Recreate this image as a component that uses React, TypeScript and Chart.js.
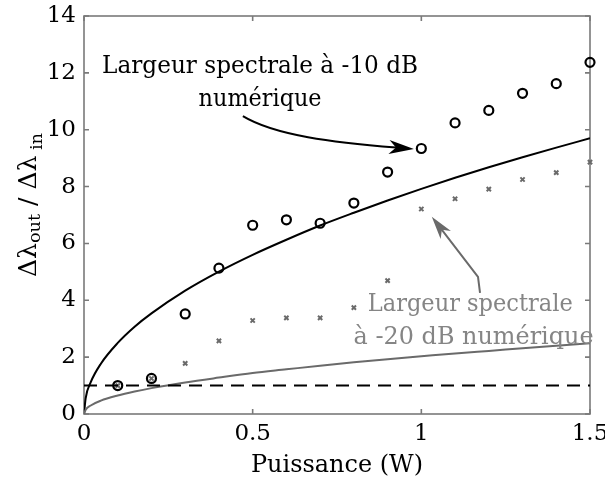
import React, { useEffect, useRef } from "react";
import { Chart, registerables } from "chart.js";

Chart.register(...registerables);

// ---- Data ----
const curvePower = [0, 0.005, 0.02, 0.05, 0.1, 0.15, 0.2, 0.3, 0.4, 0.5, 0.6, 0.7, 0.8, 0.9, 1.0, 1.1, 1.2, 1.3, 1.4, 1.5];
const curve10dB = [0, 0.56, 1.12, 1.77, 2.5, 3.07, 3.54, 4.34, 5.01, 5.6, 6.13, 6.63, 7.08, 7.51, 7.92, 8.31, 8.68, 9.03, 9.37, 9.7];
const curve20dB = [0, 0.15, 0.3, 0.47, 0.65, 0.79, 0.91, 1.11, 1.28, 1.44, 1.57, 1.7, 1.82, 1.93, 2.03, 2.13, 2.22, 2.31, 2.4, 2.49];
const measPower = [0.1, 0.2, 0.3, 0.4, 0.5, 0.6, 0.7, 0.8, 0.9, 1.0, 1.1, 1.2, 1.3, 1.4, 1.5];
const meas10dB = [1.0, 1.25, 3.52, 5.13, 6.64, 6.83, 6.71, 7.42, 8.51, 9.34, 10.24, 10.68, 11.28, 11.62, 12.37];
const meas20dB = [1.0, 1.25, 1.78, 2.57, 3.29, 3.38, 3.38, 3.74, 4.69, 7.21, 7.57, 7.91, 8.25, 8.49, 8.86];
const refPower = [0, 1.5];
const refLevel = [1, 1];
const xTicks = [0, 0.5, 1, 1.5];
const yTicks = [0, 2, 4, 6, 8, 10, 12, 14];

const label10 = ["Largeur spectrale à -10 dB", "numérique"];
const label20 = ["Largeur spectrale", "à -20 dB numérique"];
const xTitle = "Puissance (W)";

const FONT = "DejaVu Serif";
const FRAME = "#7a7a7a";
const GRAY = "#6a6a6a";
const GRAY_TEXT = "#858585";

function pts(xs: number[], ys: number[]) {
  return xs.map((x, i) => ({ x, y: ys[i] }));
}

function arrowHead(ctx: CanvasRenderingContext2D, tx: number, ty: number, ang: number, len: number, wid: number, color: string) {
  ctx.save();
  ctx.translate(tx, ty);
  ctx.rotate(ang);
  ctx.fillStyle = color;
  ctx.beginPath();
  ctx.moveTo(0, 0);
  ctx.lineTo(-len, -wid / 2);
  ctx.lineTo(-len * 0.72, 0);
  ctx.lineTo(-len, wid / 2);
  ctx.closePath();
  ctx.fill();
  ctx.restore();
}

// draw text centred at cx with baseline by, stretched horizontally to a target width
function drawFit(ctx: CanvasRenderingContext2D, text: string, cx: number, by: number, size: number, width: number, color: string) {
  ctx.save();
  ctx.font = `${size}px ${FONT}`;
  ctx.fillStyle = color;
  ctx.textAlign = "center";
  ctx.textBaseline = "alphabetic";
  const w = ctx.measureText(text).width;
  ctx.translate(cx, by);
  ctx.scale(width / w, 1);
  ctx.fillText(text, 0, 0);
  ctx.restore();
}

const framePlugin = {
  id: "frame",
  beforeDatasetsDraw(chart: any) {
    const { ctx, chartArea: a, scales } = chart;
    const xs = scales.x, ys = scales.y;
    ctx.save();
    ctx.strokeStyle = FRAME;
    ctx.lineWidth = 1.6;
    ctx.strokeRect(a.left, a.top, a.right - a.left, a.bottom - a.top);
    const tl = 5;
    ctx.beginPath();
    xTicks.forEach((v) => {
      const px = xs.getPixelForValue(v);
      ctx.moveTo(px, a.bottom);
      ctx.lineTo(px, a.bottom - tl);
      ctx.moveTo(px, a.top);
      ctx.lineTo(px, a.top + tl);
    });
    yTicks.forEach((v) => {
      const py = ys.getPixelForValue(v);
      ctx.moveTo(a.left, py);
      ctx.lineTo(a.left + tl, py);
      ctx.moveTo(a.right, py);
      ctx.lineTo(a.right - tl, py);
    });
    ctx.stroke();
    ctx.restore();
  },
  afterDatasetsDraw(chart: any) {
    const { ctx, scales, chartArea: a } = chart;
    const xs = scales.x, ys = scales.y;
    const X = (v: number) => xs.getPixelForValue(v);
    const Y = (v: number) => ys.getPixelForValue(v);

    // black annotation
    drawFit(ctx, label10[0], X(0.522), Y(11.99), 24, 316, "#000");
    drawFit(ctx, label10[1], X(0.522), Y(10.83), 24, 123, "#000");
    ctx.save();
    ctx.strokeStyle = "#000";
    ctx.lineWidth = 2;
    const sx = X(0.471), sy = Y(10.48);
    const tx = X(0.978), ty = Y(9.32);
    const c1x = X(0.566), c1y = Y(9.8);
    const c2x = X(0.74), c2y = Y(9.55);
    const ang = Math.atan2(ty - c2y, tx - c2x);
    const bx = tx - 18 * Math.cos(ang), by = ty - 18 * Math.sin(ang);
    ctx.beginPath();
    ctx.moveTo(sx, sy);
    ctx.bezierCurveTo(c1x, c1y, c2x, c2y, bx, by);
    ctx.stroke();
    ctx.restore();
    arrowHead(ctx, tx, ty, ang, 25, 14, "#000");

    // gray annotation
    drawFit(ctx, label20[0], X(1.145), Y(3.62), 24, 205, GRAY_TEXT);
    drawFit(ctx, label20[1], X(1.155), Y(2.46), 24, 240, GRAY_TEXT);
    ctx.save();
    ctx.strokeStyle = GRAY;
    ctx.lineWidth = 2;
    const g0x = X(1.174), g0y = Y(4.26);
    const g1x = X(1.168), g1y = Y(4.82);
    const gtx = X(1.031), gty = Y(6.94);
    const gang = Math.atan2(gty - g1y, gtx - g1x);
    ctx.beginPath();
    ctx.moveTo(g0x, g0y);
    ctx.lineTo(g1x, g1y);
    ctx.lineTo(gtx - 16 * Math.cos(gang), gty - 16 * Math.sin(gang));
    ctx.stroke();
    ctx.restore();
    arrowHead(ctx, gtx, gty, gang, 23, 13, GRAY);

    // x-axis title
    drawFit(ctx, xTitle, (a.left + a.right) / 2, 472, 24, 172, "#000");

    // y-axis title with subscripts
    ctx.save();
    ctx.translate(36, 205);
    ctx.rotate(-Math.PI / 2);
    ctx.fillStyle = "#000";
    ctx.textBaseline = "alphabetic";
    ctx.textAlign = "left";
    const big = `24px ${FONT}`;
    const small = `17px ${FONT}`;
    const parts: [string, string, number][] = [
      ["Δλ", big, 0],
      ["out", small, 4],
      [" / ", big, 0],
      ["Δλ", big, 0],
      [" in", small, 6],
    ];
    let total = 0;
    parts.forEach(([t, f]) => {
      ctx.font = f;
      total += ctx.measureText(t).width;
    });
    const k = 144 / total;
    ctx.scale(k, 1);
    let x = -total / 2;
    parts.forEach(([t, f, dy]) => {
      ctx.font = f;
      ctx.fillText(t, x, dy);
      x += ctx.measureText(t).width;
    });
    ctx.restore();
  },
};

export default function App() {
  const ref = useRef<HTMLCanvasElement | null>(null);
  useEffect(() => {
    if (!ref.current) return;
    const chart = new Chart(ref.current, {
      type: "scatter",
      data: {
        datasets: [
          {
            data: pts(refPower, refLevel),
            showLine: true,
            borderColor: "#000",
            borderWidth: 2,
            borderDash: [13, 8],
            pointRadius: 0,
          },
          {
            data: pts(curvePower, curve20dB),
            showLine: true,
            borderColor: GRAY,
            borderWidth: 2,
            pointRadius: 0,
            cubicInterpolationMode: "monotone",
          },
          {
            data: pts(curvePower, curve10dB),
            showLine: true,
            borderColor: "#000",
            borderWidth: 2,
            pointRadius: 0,
            cubicInterpolationMode: "monotone",
          },
          {
            data: pts(measPower, meas20dB),
            showLine: false,
            pointStyle: "crossRot",
            pointRadius: 3,
            borderColor: GRAY,
            backgroundColor: GRAY,
            borderWidth: 2,
            clip: false,
          },
          {
            data: pts(measPower, meas10dB),
            showLine: false,
            pointStyle: "circle",
            pointRadius: 4.5,
            borderColor: "#000",
            backgroundColor: "rgba(0,0,0,0)",
            borderWidth: 2.2,
            clip: false,
          },
        ],
      } as any,
      options: {
        animation: false,
        responsive: false,
        events: [],
        layout: { padding: { top: 16, right: 15, left: 0, bottom: 0 } },
        plugins: { legend: { display: false }, tooltip: { enabled: false } },
        scales: {
          x: {
            type: "linear",
            min: 0,
            max: 1.5,
            afterBuildTicks: (s: any) => {
              s.ticks = xTicks.map((v) => ({ value: v }));
            },
            afterFit: (s: any) => {
              s.height = 69;
              s.paddingLeft = 0;
              s.paddingRight = 0;
            },
            ticks: {
              font: { family: FONT, size: 23 },
              color: "#000",
              padding: 6,
              maxRotation: 0,
              autoSkip: false,
              callback: (v: any) => String(v),
            },
            grid: { display: false, drawTicks: false },
            border: { display: false },
            title: { display: false },
          },
          y: {
            type: "linear",
            min: 0,
            max: 14,
            afterBuildTicks: (s: any) => {
              s.ticks = yTicks.map((v) => ({ value: v }));
            },
            afterFit: (s: any) => {
              s.width = 84;
              s.paddingTop = 0;
              s.paddingBottom = 0;
            },
            ticks: {
              font: { family: FONT, size: 23 },
              color: "#000",
              padding: 8,
              autoSkip: false,
            },
            grid: { display: false, drawTicks: false },
            border: { display: false },
            title: { display: false },
          },
        },
      } as any,
      plugins: [framePlugin],
    });
    return () => chart.destroy();
  }, []);
  return (
    <div style={{ position: "absolute", left: 0, top: 0, width: 605, height: 483, background: "#fff" }}>
      <canvas ref={ref} width={605} height={483} style={{ width: 605, height: 483 }} />
    </div>
  );
}
